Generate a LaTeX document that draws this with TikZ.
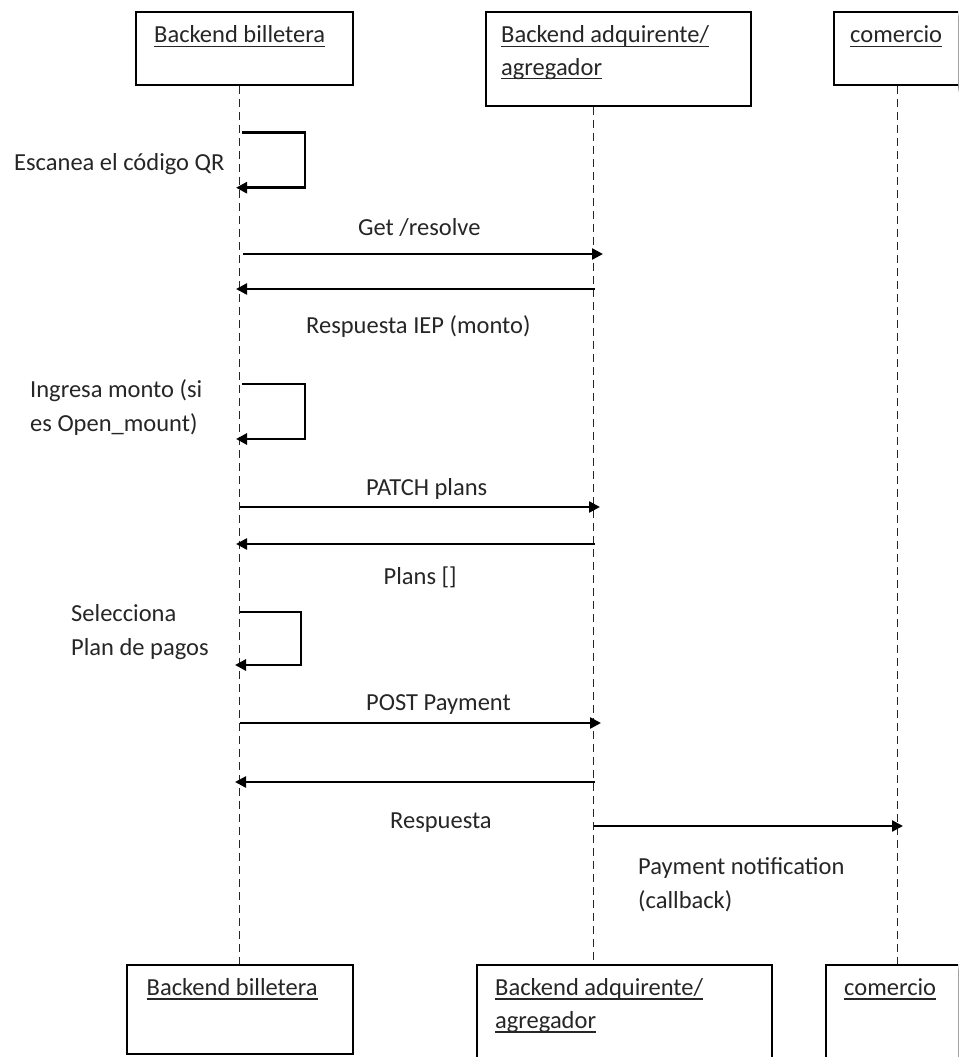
\documentclass[tikz,border=0pt]{standalone}
\usepackage{fontspec}
\setmainfont{Carlito}
\usetikzlibrary{arrows.meta,backgrounds}

\definecolor{ink}{HTML}{262626}

% underlined label with a fixed rule offset
\newcommand\uln[1]{\setbox0\hbox{#1}\rlap{\rule[-4.5pt]{\wd0}{1.2pt}}\box0}

\tikzset{
  lbl/.style={anchor=base west, inner sep=0pt, text=ink,
              font=\fontsize{24.5}{30}\selectfont},
  actor/.style={draw=black, line width=1.5pt, fill=white, rectangle, inner sep=0pt},
  lifeline/.style={draw=black!85, line width=1pt, dash pattern=on 8pt off 5pt},
  msg/.style={draw=black, line width=2.4pt, -{Triangle[length=11pt,width=11pt]}},
  selfmsg/.style={msg, line width=2.8pt},
}

\begin{document}
\begin{tikzpicture}[x=1pt, y=-1pt]
\clip (0,0) rectangle (958,1057);
\fill[white] (0,0) rectangle (958,1057);

% lifeline positions
\coordinate (xA) at (239.5,0);
\coordinate (xB) at (593.5,0);
\coordinate (xC) at (897,0);

% participant boxes, top row
\node[actor, minimum width=217pt, minimum height=73pt] (topA) at (244.5,48.5) {};
\node[actor, minimum width=265pt, minimum height=94pt] (topB) at (618.5,59) {};
\node[actor, minimum width=170pt, minimum height=73pt] (topC) at (919,48.5) {};

% participant boxes, bottom row
\node[actor, minimum width=226pt, minimum height=89pt] (botA) at (240,1009.5) {};
\node[actor, minimum width=295pt, minimum height=120pt] (botB) at (624.5,1025) {};
\node[actor, minimum width=170pt, minimum height=120pt] (botC) at (911,1025) {};

% soft shadows behind the boxes
\begin{scope}[on background layer]
  \foreach \n in {topA,topB,topC,botA,botB,botC}{
    \foreach \k in {0,...,4}{
      \fill[black, opacity=0.1]
        ([shift={(4-\k,6-\k)}]\n.north west) rectangle ([shift={(2+\k,2+\k)}]\n.south east);
    }
  }
\end{scope}

% box labels
\node[lbl] (tA) at (154,43) {\uln{Backend billetera}};
\node[lbl] (tB1) at (501,43) {\uln{Backend adquirente/}};
\node[lbl] (tB2) at (501,75) {\uln{agregador}};
\node[lbl] (tC) at (850,43) {\uln{comercio}};
\node[lbl] (bA) at (146.5,995) {\uln{Backend billetera}};
\node[lbl] (bB1) at (495,995) {\uln{Backend adquirente/}};
\node[lbl] (bB2) at (495,1028) {\uln{agregador}};
\node[lbl] (bC) at (844,995) {\uln{comercio}};

% lifelines
\draw[lifeline] (xA |- topA.south) -- (xA |- botA.north);
\draw[lifeline] (xB |- topB.south) -- (xB |- botB.north);
\draw[lifeline] (xC |- topC.south) -- (xC |- botC.north);

% self message: scan
\coordinate (s1a) at (242,132.7);
\coordinate (s1c) at (305,160);
\coordinate (s1b) at (236,187.7);
\draw[selfmsg] (s1a) -| (s1c) |- (s1b);
\node[lbl] (l1) at (14,170) {Escanea el código QR};

% Get /resolve and reply
\coordinate (m1a) at (243,254);
\coordinate (m1b) at (603,254);
\draw[msg] (m1a) -- (m1b);
\node[lbl] (l2) at (358,235) {Get /resolve};
\coordinate (m2a) at (595,289);
\coordinate (m2b) at (236,289);
\draw[msg] (m2a) -- (m2b);
\node[lbl] (l3) at (306,333) {Respuesta IEP (monto)};

% self message: amount entry
\coordinate (s2a) at (242,384);
\coordinate (s2c) at (305,411);
\coordinate (s2b) at (236,439);
\draw[selfmsg] (s2a) -| (s2c) |- (s2b);
\node[lbl] (l4a) at (30,397) {Ingresa monto (si};
\node[lbl] (l4b) at (30,431) {es Open\_mount)};

% PATCH plans and reply
\coordinate (m3a) at (240,507);
\coordinate (m3b) at (600,507);
\draw[msg] (m3a) -- (m3b);
\node[lbl] (l5) at (366,495) {PATCH plans};
\coordinate (m4a) at (595,544);
\coordinate (m4b) at (236,544);
\draw[msg] (m4a) -- (m4b);
\node[lbl] (l6) at (383.5,584) {Plans []};

% self message: plan selection
\coordinate (s3a) at (240,612);
\coordinate (s3c) at (301,638);
\coordinate (s3b) at (235,665);
\draw[selfmsg] (s3a) -| (s3c) |- (s3b);
\node[lbl] (l7a) at (71,621) {Selecciona};
\node[lbl] (l7b) at (71,655) {Plan de pagos};

% POST Payment and reply
\coordinate (m5a) at (240,723);
\coordinate (m5b) at (601,723);
\draw[msg] (m5a) -- (m5b);
\node[lbl] (l8) at (366,710) {POST Payment};
\coordinate (m6a) at (595,782);
\coordinate (m6b) at (235,782);
\draw[msg] (m6a) -- (m6b);
\node[lbl] (l9) at (390,828) {Respuesta};

% callback to the merchant
\coordinate (m7a) at (594,826);
\coordinate (m7b) at (903,826);
\draw[msg] (m7a) -- (m7b);
\node[lbl] (l10a) at (638,874) {Payment notification};
\node[lbl] (l10b) at (638,908) {(callback)};
\end{tikzpicture}
\end{document}
